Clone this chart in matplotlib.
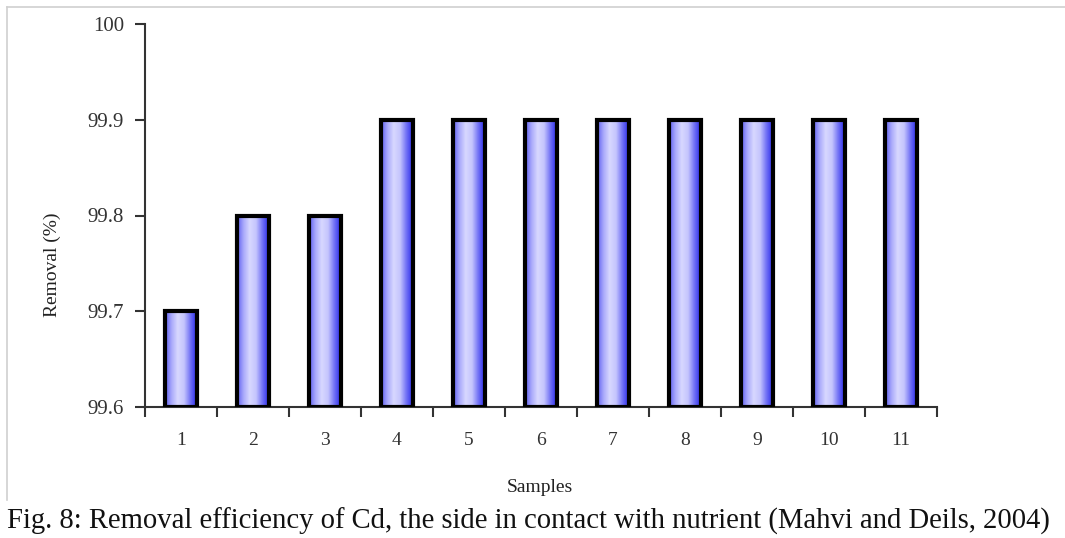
import numpy as np
import matplotlib
matplotlib.use("Agg")
import matplotlib.pyplot as plt
from matplotlib.colors import LinearSegmentedColormap
from matplotlib.lines import Line2D

# data
samples = [1, 2, 3, 4, 5, 6, 7, 8, 9, 10, 11]
removal = [99.7, 99.8, 99.8, 99.9, 99.9, 99.9, 99.9, 99.9, 99.9, 99.9, 99.9]
yticks = [99.6, 99.7, 99.8, 99.9, 100]
ytick_labels = ["99.6", "99.7", "99.8", "99.9", "100"]

plt.rcParams["font.family"] = ["Liberation Serif", "DejaVu Serif"]

fig = plt.figure(figsize=(10.65, 5.38), dpi=100)
ax = fig.add_axes([145 / 1065, 1 - 407 / 538, 792 / 1065, 383 / 538])

# bar gradient: medium blue left, pale middle, deep blue right
grad = LinearSegmentedColormap.from_list(
    "bar", ["#5a5af0", "#a8a8fb", "#d8d8ff", "#c4c4fd", "#7070f5", "#2a2ae8"])
g = np.linspace(0, 1, 256).reshape(1, -1)

ymin = 99.6
width = 0.44
bars = ax.bar(samples, [v - ymin for v in removal], bottom=ymin, width=width,
              facecolor="none", edgecolor="black", linewidth=3, zorder=3)
for x, v in zip(samples, removal):
    ax.imshow(g, cmap=grad, aspect="auto", zorder=2,
              extent=(x - width / 2, x + width / 2, ymin, v))

ax.set_xlim(0.5, 11.5)
ax.set_ylim(99.6, 100)
ax.set_yticks(yticks)
ax.set_yticklabels(ytick_labels)
ax.set_xticks(samples)
ax.set_xticklabels([str(s) for s in samples])
ax.set_xticks(np.arange(0.5, 12, 1), minor=True)
ax.tick_params(axis="x", which="major", length=0, pad=18, labelsize=14, labelcolor="#333333")
ax.tick_params(axis="x", which="minor", length=7, width=1.5, color="#333333", direction="out")
ax.tick_params(axis="y", length=7, width=1.5, color="#333333", pad=8, labelsize=15,
               labelcolor="#333333")

for s in ["top", "right"]:
    ax.spines[s].set_visible(False)
for s in ["left", "bottom"]:
    ax.spines[s].set_linewidth(1.5)
    ax.spines[s].set_color("#333333")

fig.text(52 / 1065, 1 - 265 / 538, "Removal (%)", rotation=90, ha="center", va="center",
         fontsize=14, color="#222222")
fig.text(540 / 1065, 1 - 487 / 538, "Samples", ha="center", va="center",
         fontsize=14, color="#222222")
fig.text(7 / 1065, 1 - 521 / 538,
         "Fig. 8: Removal efficiency of Cd, the side in contact with nutrient (Mahvi and Deils, 2004)",
         ha="left", va="center", fontsize=20.6, color="#111111")

# light frame lines (top and left) around the chart area
fig.add_artist(Line2D([7 / 1065, 1], [1 - 7 / 538, 1 - 7 / 538], transform=fig.transFigure,
                      color="#d0d0d0", linewidth=1.2))
fig.add_artist(Line2D([7 / 1065, 7 / 1065], [1 - 7 / 538, 1 - 500 / 538], transform=fig.transFigure,
                      color="#d0d0d0", linewidth=1.2))

fig.savefig("out.png", dpi=100)
